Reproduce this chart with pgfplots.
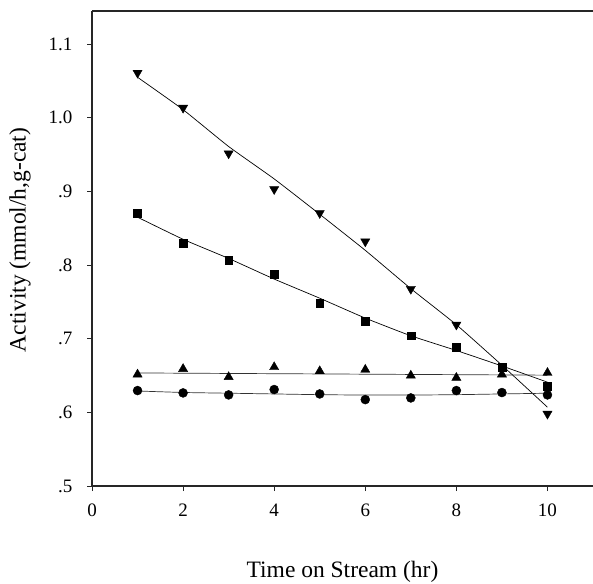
\documentclass[border=0pt]{standalone}
\usepackage{fontspec}
\setmainfont{Liberation Serif}
\usepackage{pgfplots}
\pgfplotsset{compat=1.18}

\begin{document}
\begin{tikzpicture}
\begin{axis}[
    scale only axis,
    width=501pt, height=475pt,
    xmin=0, xmax=11,
    ymin=0.5, ymax=1.145,
    axis x line*=bottom,
    axis y line*=left,
    axis line style={line width=1.1pt, black!85},
    tick align=outside,
    major tick length=5pt,
    tick style={line width=0.8pt, black!85},
    xtick={0,2,4,6,8,10},
    xticklabels={0,2,4,6,8,10},
    ytick={0.5,0.6,0.7,0.8,0.9,1.0,1.1},
    yticklabels={.5,.6,.7,.8,.9,1.0,1.1},
    tick label style={font=\fontsize{19}{21}\selectfont},
    xticklabel style={yshift=-9pt},
    yticklabel style={xshift=-11pt},
    xlabel={Time on Stream (hr)},
    ylabel={Activity (mmol/h,g-cat)},
    label style={font=\fontsize{23.5}{26}\selectfont},
    xlabel style={at={(axis description cs:0.5,-0.1916)}, anchor=base},
    ylabel style={at={(axis description cs:-0.1437,0.518)}, anchor=center},
    clip=false,
]
\coordinate (sw) at (rel axis cs:0,0);
\draw[line width=1.1pt, black!85] (rel axis cs:0,1) -- (rel axis cs:1,1);

% fitted curves
\addplot[black, line width=0.7pt, smooth, tension=0.3] coordinates {
    (1,1.055) (2,1.011) (3,0.961) (4,0.917) (5,0.869)
    (6,0.820) (7,0.768) (8,0.719) (9,0.664) (10,0.607)
};
\addplot[black, line width=0.7pt, smooth, tension=0.3] coordinates {
    (1,0.865) (2,0.835) (3,0.809) (4,0.781) (5,0.755)
    (6,0.728) (7,0.704) (8,0.684) (9,0.663) (10,0.641)
};
\addplot[black!80, line width=0.7pt] coordinates {
    (1,0.6535) (10,0.6505)
};
\addplot[black!80, line width=0.7pt, smooth, tension=0.3] coordinates {
    (1,0.629) (2,0.627) (3,0.626) (4,0.625) (5,0.624)
    (6,0.6235) (7,0.6235) (8,0.624) (9,0.625) (10,0.626)
};

% data points
\addplot[only marks, mark=*, mark size=4.5pt, black] coordinates {
    (1,0.6296) (2,0.6264) (3,0.6237) (4,0.631) (5,0.625)
    (6,0.6173) (7,0.6196) (8,0.6296) (9,0.6269) (10,0.6237)
};
\addplot[only marks, mark=triangle*, mark size=5.3pt, black] coordinates {
    (1,0.6515) (2,0.659) (3,0.648) (4,0.6615) (5,0.656)
    (6,0.658) (7,0.650) (8,0.647) (9,0.6515) (10,0.6537)
};
\addplot[only marks, mark=triangle*, mark size=5.3pt, black, mark options={rotate=180}] coordinates {
    (1,1.061) (2,1.0135) (3,0.9515) (4,0.903) (5,0.8705)
    (6,0.832) (7,0.7676) (8,0.719) (10,0.598)
};
\addplot[only marks, mark=square*, mark size=3.9pt, black] coordinates {
    (1,0.870) (2,0.830) (3,0.807) (4,0.788) (5,0.748)
    (6,0.724) (7,0.704) (8,0.688) (9,0.661) (10,0.636)
};
\end{axis}
\pgfresetboundingbox
\path[use as bounding box] (sw) ++(-92pt,-97pt) rectangle ++(593pt,583pt);
\end{tikzpicture}
\end{document}
